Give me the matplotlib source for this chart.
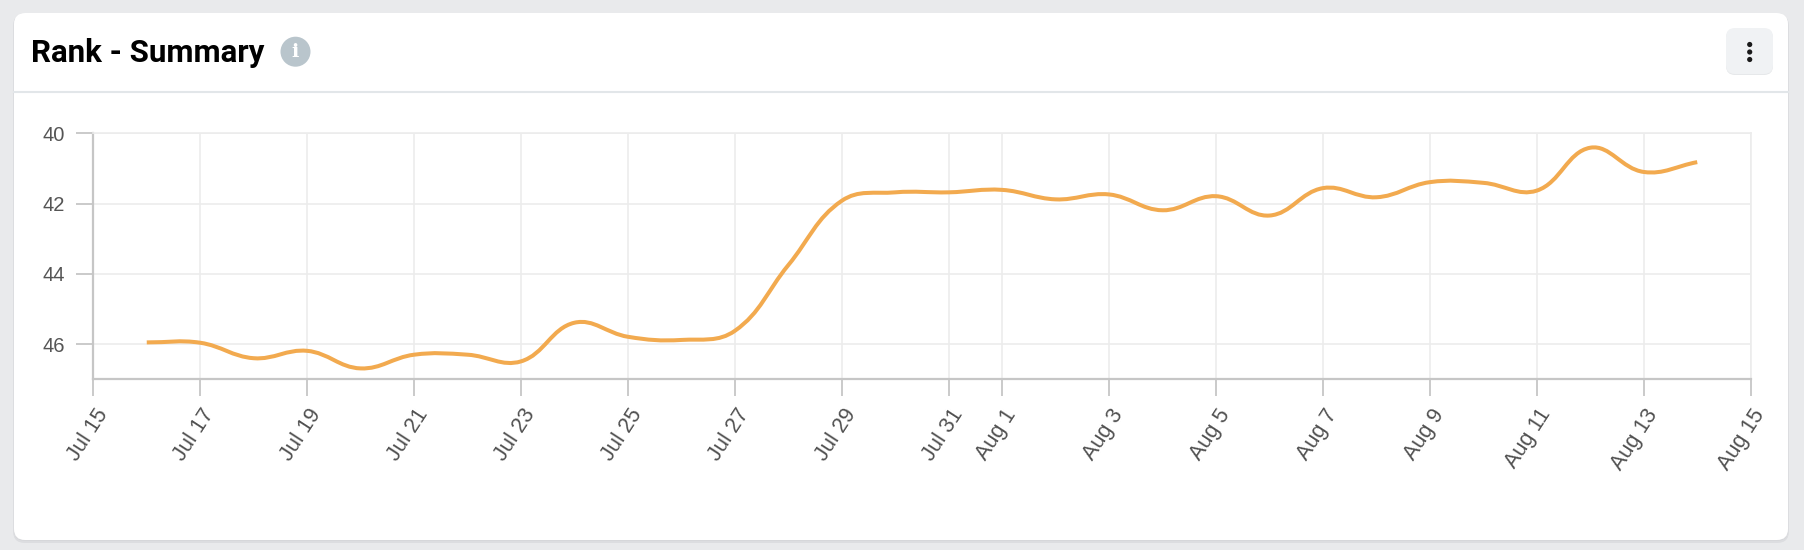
import numpy as np
import pandas as pd
import matplotlib
matplotlib.use("Agg")
import matplotlib.pyplot as plt
import matplotlib.dates as mdates
from matplotlib.patches import FancyBboxPatch, Circle, PathPatch
from matplotlib.path import Path
from matplotlib.transforms import ScaledTranslation

# data
days = pd.date_range("2023-07-16", "2023-08-14", freq="D")
rank = [45.95, 45.96, 46.40, 46.19, 46.69, 46.30, 46.30, 46.49, 45.39, 45.79,
        45.88, 45.62, 43.75, 41.92, 41.68, 41.68, 41.61, 41.88, 41.74, 42.19,
        41.79, 42.34, 41.56, 41.82, 41.39, 41.41, 41.63, 40.41, 41.10, 40.82]
tick_days = ["2023-07-15", "2023-07-17", "2023-07-19", "2023-07-21", "2023-07-23",
             "2023-07-25", "2023-07-27", "2023-07-29", "2023-07-31", "2023-08-01",
             "2023-08-03", "2023-08-05", "2023-08-07", "2023-08-09", "2023-08-11",
             "2023-08-13", "2023-08-15"]
tick_labels = ["Jul 15", "Jul 17", "Jul 19", "Jul 21", "Jul 23", "Jul 25", "Jul 27",
               "Jul 29", "Jul 31", "Aug 1", "Aug 3", "Aug 5", "Aug 7", "Aug 9",
               "Aug 11", "Aug 13", "Aug 15"]
y_ticks = [40, 42, 44, 46]

W, H = 1804, 550
fig = plt.figure(figsize=(W / 100, H / 100), dpi=100)
fig.patch.set_facecolor("#e9eaec")
inch = fig.dpi_scale_trans

def rbox(x0, y0, x1, y1, r, **kw):
    # pixel box, top-left origin
    return FancyBboxPatch((x0 / 100, (H - y1) / 100), (x1 - x0) / 100, (y1 - y0) / 100,
                          boxstyle="round,pad=0,rounding_size=%f" % (r / 100),
                          transform=inch, **kw)

# card + shadow
fig.patches.append(rbox(13, 14, 1789, 543, 12, facecolor="#dcdde0", edgecolor="none", zorder=-3))
fig.patches.append(rbox(14, 13, 1788, 541, 11, facecolor="#d6d7da", edgecolor="none", zorder=-3))
fig.patches.append(rbox(14, 13, 1788, 540, 11, facecolor="white", edgecolor="none", zorder=-2))

# header
fig.lines.append(plt.Line2D([14 / W, 1788 / W], [1 - 91.5 / H, 1 - 91.5 / H],
                            transform=fig.transFigure, color="#e2e6e9", lw=1.5))
fig.text(31 / W, 1 - 62.3 / H, "Rank - Summary", fontsize=22.5, fontweight="bold",
         family="Roboto", color="#000000", va="baseline", ha="left")
fig.patches.append(Circle((295.5 / 100, (H - 51.7) / 100), 0.15, transform=inch,
                          facecolor="#b9c5cc", edgecolor="none"))
fig.text(295.5 / W, 1 - 52 / H, "i", fontsize=14, fontweight="bold", family="DejaVu Serif",
         color="white", ha="center", va="center")

# menu button
fig.patches.append(rbox(1726, 29, 1773, 75, 9, facecolor="#e6e8ea", edgecolor="none"))
fig.patches.append(rbox(1726, 28, 1773, 74, 9, facecolor="#f0f2f4", edgecolor="none"))
for dy in [44.5, 52, 59.5]:
    fig.patches.append(Circle((1749.7 / 100, (H - dy) / 100), 0.026, transform=inch,
                              facecolor="#1a1a1a", edgecolor="none"))

# chart
ax = fig.add_axes([93.3 / W, 1 - 379.3 / H, (1750.7 - 93.3) / W, (379.3 - 133.3) / H])
ax.set_zorder(2)
ax.set_facecolor("white")
ax.set_xlim(mdates.date2num(pd.Timestamp("2023-07-15")), mdates.date2num(pd.Timestamp("2023-08-15")))
ax.set_ylim(47, 40)

tx = mdates.date2num(pd.to_datetime(tick_days))
ax.set_xticks(tx)
ax.set_yticks(y_ticks)
ax.set_yticklabels([str(v) for v in y_ticks], family="Liberation Sans", fontsize=14.5, color="#555555")
ax.tick_params(axis="x", labelbottom=False)
ax.tick_params(axis="both", length=12, width=1.3, color="#c6c6c6", pad=8.5)
ax.grid(True, color="#ececec", lw=1.2)
ax.set_axisbelow(True)
for s in ["left", "bottom"]:
    ax.spines[s].set_color("#c6c6c6")
    ax.spines[s].set_linewidth(1.6)
for s in ["top", "right"]:
    ax.spines[s].set_color("#ececec")
    ax.spines[s].set_linewidth(1.2)

off = ax.get_xaxis_transform() + ScaledTranslation(10 / 100, -31.5 / 100, inch)
for x, lab in zip(tx, tick_labels):
    ax.text(x, 0, lab, transform=off, rotation=57, rotation_mode="anchor",
            ha="right", va="center", family="Liberation Sans", fontsize=15.5,
            color="#505050", clip_on=False)

# smooth line like chart.js (tension 0.4), control points in pixel space
xd = mdates.date2num(days)
pts = ax.transData.transform(np.column_stack([xd, rank]))
t = 0.4
n = len(pts)
cp_in, cp_out = [], []
for i in range(n):
    prev = pts[i - 1] if i > 0 else pts[i]
    nxt = pts[i + 1] if i < n - 1 else pts[i]
    d01 = np.hypot(*(pts[i] - prev))
    d12 = np.hypot(*(nxt - pts[i]))
    s = d01 + d12
    s01 = d01 / s if s else 0
    s12 = d12 / s if s else 0
    cp_in.append(pts[i] - t * s01 * (nxt - prev))
    cp_out.append(pts[i] + t * s12 * (nxt - prev))
verts = [pts[0]]
codes = [Path.MOVETO]
for i in range(n - 1):
    verts += [cp_out[i], cp_in[i + 1], pts[i + 1]]
    codes += [Path.CURVE4] * 3
verts = ax.transData.inverted().transform(np.array(verts))
ax.add_patch(PathPatch(Path(verts, codes), facecolor="none", edgecolor="#f2aa4f",
                       lw=2.9, joinstyle="round", capstyle="butt", zorder=3))

fig.savefig("out.png", dpi=100, facecolor=fig.get_facecolor())
